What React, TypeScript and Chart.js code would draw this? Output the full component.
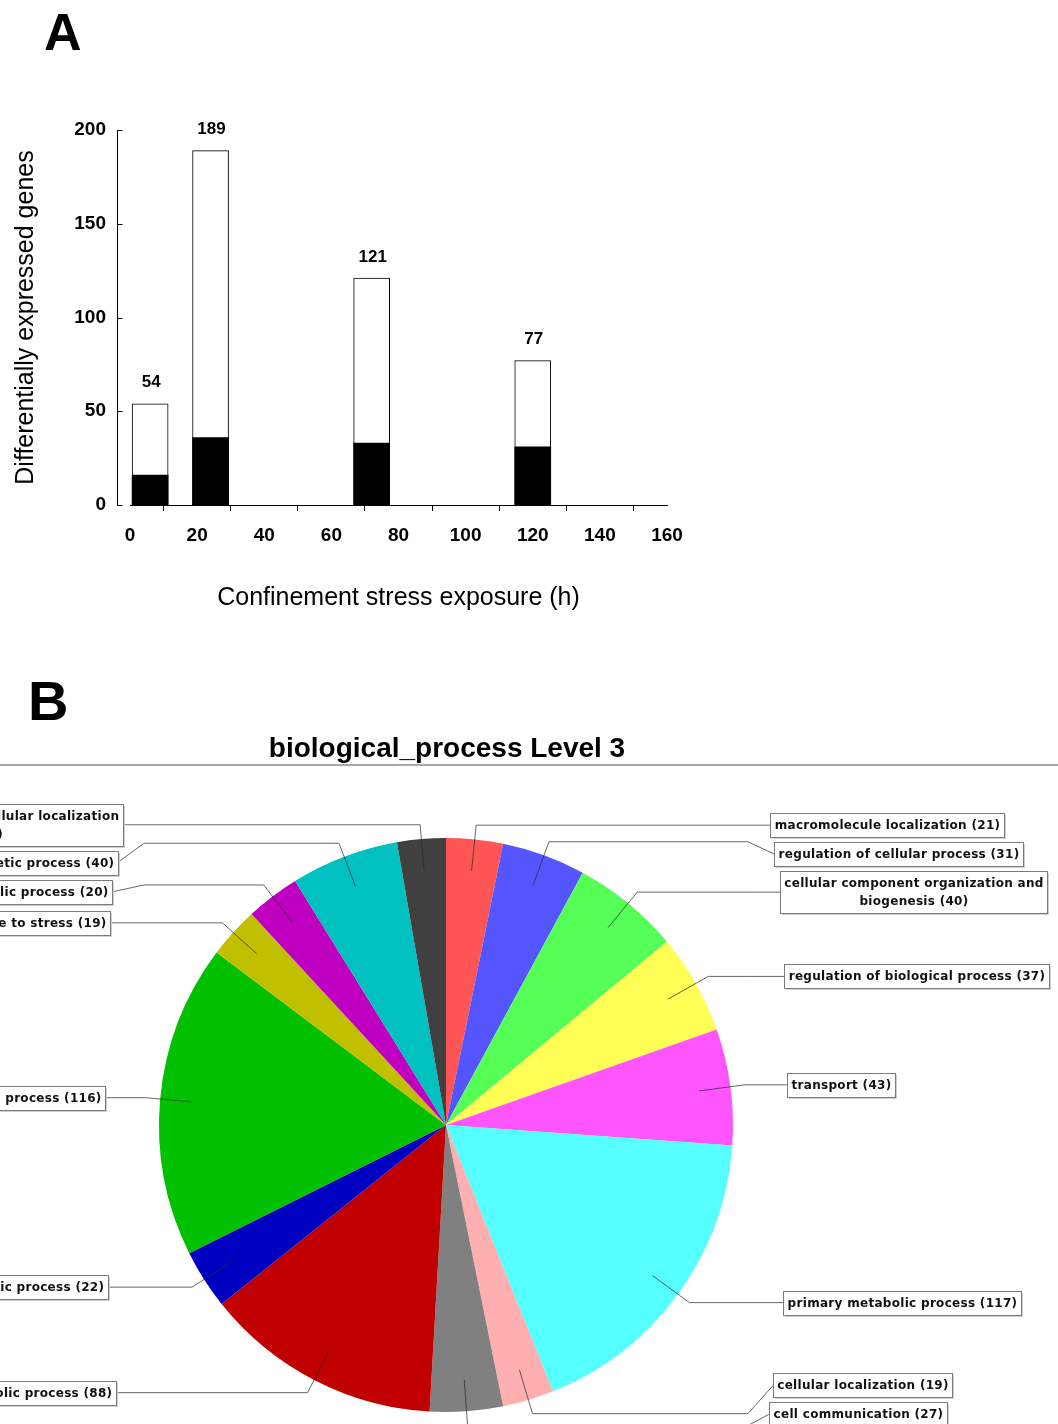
import React, { useEffect, useRef } from 'react';
import { Chart, registerables } from 'chart.js';

Chart.register(...registerables);

const SANS = "'Liberation Sans', Arial, Helvetica, sans-serif";
const LABEL_FONT = "'DejaVu Sans', Verdana, sans-serif";

// ---------- Panel A data ----------
const exposureHours = [6, 24, 72, 120];
const totalGenes = [54, 189, 121, 77];
const blackGenes = [16, 36, 33, 31];
const xAxisMax = 160;
const xTickStep = 20;
const yAxisMax = 200;
const yTickStep = 50;

// ---------- Panel B data ----------
const processLabels = [
  'macromolecule localization',
  'regulation of cellular process',
  'cellular component organization and biogenesis',
  'regulation of biological process',
  'transport',
  'primary metabolic process',
  'cellular localization',
  'cell communication',
  'macromolecule metabolic process',
  'phosphorus metabolic process',
  'cellular metabolic process',
  'response to stress',
  'catabolic process',
  'biosynthetic process',
  'establishment of cellular localization',
];
const processCounts = [21, 31, 40, 37, 43, 117, 19, 27, 88, 22, 116, 19, 20, 40, 18];
const processColors = [
  '#FF5555', '#5555FF', '#55FF55', '#FFFF55', '#FF55FF', '#55FFFF', '#FFAFAF', '#808080',
  '#C00000', '#0000C0', '#00C000', '#C0C000', '#C000C0', '#00C0C0', '#404040',
];

const A_W = 700;
const A_H = 640;
const B_W = 1058;
const B_H = 784;

const offsetYAxisPlugin = {
  id: 'offsetYAxis',
  afterDraw(chart: any) {
    const { ctx, chartArea } = chart;
    const y = chart.scales.y;
    const ax = Math.round(chartArea.left - 13) + 0.5;
    ctx.save();
    ctx.strokeStyle = '#000';
    ctx.lineWidth = 1;
    ctx.beginPath();
    ctx.moveTo(ax, y.getPixelForValue(y.min) + 0.5);
    ctx.lineTo(ax, y.getPixelForValue(y.max));
    y.ticks.forEach((t: any) => {
      const py = Math.round(y.getPixelForValue(t.value)) + 0.5;
      ctx.moveTo(ax, py);
      ctx.lineTo(ax + 5, py);
    });
    ctx.stroke();
    ctx.restore();
  },
};

const barValuePlugin = {
  id: 'barValues',
  afterDatasetsDraw(chart: any) {
    const { ctx } = chart;
    const meta = chart.getDatasetMeta(1);
    ctx.save();
    ctx.font = `bold 17px ${SANS}`;
    ctx.fillStyle = '#000';
    ctx.textAlign = 'center';
    ctx.textBaseline = 'middle';
    meta.data.forEach((el: any, i: number) => {
      ctx.fillText(String(totalGenes[i]), el.x + 1, el.y - 21);
    });
    ctx.restore();
  },
};

const letterAPlugin = {
  id: 'letterA',
  afterDraw(chart: any) {
    const { ctx } = chart;
    ctx.save();
    ctx.font = `bold 52px ${SANS}`;
    ctx.fillStyle = '#000';
    ctx.textAlign = 'left';
    ctx.textBaseline = 'alphabetic';
    ctx.fillText('A', 44, 50);
    ctx.restore();
  },
};

function wrapText(ctx: CanvasRenderingContext2D, text: string, maxW: number): string[] {
  const words = text.split(' ');
  const lines: string[] = [];
  let cur = '';
  for (const w of words) {
    const test = cur ? cur + ' ' + w : w;
    if (cur && ctx.measureText(test).width > maxW) {
      lines.push(cur);
      cur = w;
    } else {
      cur = test;
    }
  }
  if (cur) lines.push(cur);
  return lines;
}

const pieHeaderPlugin = {
  id: 'pieHeader',
  afterDraw(chart: any) {
    const { ctx } = chart;
    const arc = chart.getDatasetMeta(0).data[0];
    ctx.save();
    ctx.fillStyle = '#000';
    ctx.font = `bold 56px ${SANS}`;
    ctx.textAlign = 'left';
    ctx.textBaseline = 'alphabetic';
    ctx.fillText('B', 28, 80);
    ctx.font = `bold 28px ${SANS}`;
    ctx.textAlign = 'center';
    ctx.textBaseline = 'middle';
    ctx.fillText('biological_process Level 3', arc.x + 1, 109);
    ctx.strokeStyle = '#a8a8a8';
    ctx.lineWidth = 2;
    ctx.beginPath();
    ctx.moveTo(0, 125);
    ctx.lineTo(chart.width, 125);
    ctx.stroke();
    ctx.restore();
  },
};

const pieLabelPlugin = {
  id: 'pieLabels',
  afterDatasetsDraw(chart: any) {
    const { ctx } = chart;
    const arcs = chart.getDatasetMeta(0).data;
    if (!arcs.length) return;
    const cx = arcs[0].x;
    const cy = arcs[0].y;
    const r = arcs[0].outerRadius;
    ctx.save();
    ctx.font = `bold 12px ${LABEL_FONT}`;
    (ctx as any).letterSpacing = '0.3px';
    const lineH = 18;
    const gap = 5;
    const items = arcs.map((arc: any, i: number) => {
      const mid = (arc.startAngle + arc.endAngle) / 2;
      const c = Math.cos(mid);
      const s = Math.sin(mid);
      const lines = wrapText(ctx, `${processLabels[i]} (${processCounts[i]})`, 280);
      const w = Math.max(...lines.map((l) => ctx.measureText(l).width)) + 8;
      const h = lines.length * lineH + 6;
      const idealY = cy + r * 1.05 * s;
      return { i, c, s, right: c >= 0, lines, w, h, idealY, y: idealY };
    });
    const maxY = chart.height - 10;
    [true, false].forEach((side) => {
      const list = items.filter((it: any) => it.right === side).sort((a: any, b: any) => a.idealY - b.idealY);
      for (let k = 1; k < list.length; k++) {
        const p = list[k - 1];
        const q = list[k];
        q.y = Math.max(q.idealY, p.y + p.h / 2 + q.h / 2 + gap);
      }
      if (list.length && list[list.length - 1].y > maxY) {
        list[list.length - 1].y = maxY;
        for (let k = list.length - 2; k >= 0; k--) {
          const q = list[k + 1];
          const p = list[k];
          p.y = Math.min(p.y, q.y - q.h / 2 - p.h / 2 - gap);
        }
      }
    });

    // leader lines
    ctx.strokeStyle = 'rgba(40,40,40,0.7)';
    ctx.lineWidth = 1;
    items.forEach((it: any) => {
      const dir = it.right ? 1 : -1;
      const lx = cx + r * 0.89 * it.c;
      const ly = cy + r * 0.89 * it.s;
      const ex = cx + r * 1.05 * it.c;
      const ey = cy + r * 1.05 * it.s;
      const anchorX = cx + dir * r * 1.052;
      const edgeX = cx + dir * (r * 1.122 + r * 0.066 * Math.abs(it.c));
      it.edgeX = edgeX;
      ctx.beginPath();
      ctx.moveTo(lx, ly);
      ctx.lineTo(ex, ey);
      ctx.lineTo(anchorX, ey);
      ctx.lineTo(edgeX, it.y);
      ctx.stroke();
    });

    // label boxes
    items.forEach((it: any) => {
      const left = Math.round(it.right ? it.edgeX : it.edgeX - it.w);
      const top = Math.round(it.y - it.h / 2);
      const w = Math.round(it.w);
      ctx.fillStyle = '#cfcfcf';
      ctx.fillRect(left + 2, top + 2, w, it.h);
      ctx.fillStyle = '#ffffff';
      ctx.fillRect(left, top, w, it.h);
      ctx.strokeStyle = '#7a7a7a';
      ctx.strokeRect(left + 0.5, top + 0.5, w, it.h);
      ctx.fillStyle = '#111';
      ctx.textAlign = 'center';
      ctx.textBaseline = 'middle';
      it.lines.forEach((line: string, k: number) => {
        ctx.fillText(line, left + w / 2 + 0.5, top + 3 + lineH / 2 + k * lineH + 1);
      });
    });
    (ctx as any).letterSpacing = '0px';
    ctx.restore();
  },
};

export default function App() {
  const barRef = useRef<HTMLCanvasElement | null>(null);
  const pieRef = useRef<HTMLCanvasElement | null>(null);

  useEffect(() => {
    if (!barRef.current || !pieRef.current) return;
    const tickFont = { family: SANS, size: 19, weight: 'bold' as const };
    const titleFont = { family: SANS, size: 25, weight: 'normal' as const };

    const barChart = new Chart(barRef.current, {
      type: 'bar',
      data: {
        datasets: [
          {
            label: 'dark segment',
            data: exposureHours.map((x, i) => ({ x, y: blackGenes[i] })),
            backgroundColor: '#000000',
            borderColor: '#000000',
            borderWidth: 0,
            order: 0,
          },
          {
            label: 'total',
            data: exposureHours.map((x, i) => ({ x, y: totalGenes[i] })),
            backgroundColor: '#ffffff',
            borderColor: '#000000',
            borderWidth: 1,
            order: 1,
          },
        ],
      },
      options: {
        animation: false,
        responsive: false,
        maintainAspectRatio: false,
        layout: { padding: { top: 130, left: 0, right: A_W - 667, bottom: 0 } },
        datasets: { bar: { grouped: false, barThickness: 36 } } as any,
        plugins: { legend: { display: false }, tooltip: { enabled: false } },
        scales: {
          x: {
            type: 'linear',
            min: 0,
            max: xAxisMax,
            offset: false,
            ticks: { stepSize: xTickStep, font: tickFont, color: '#000', padding: 13, maxRotation: 0 },
            grid: { display: true, drawOnChartArea: false, drawTicks: true, tickLength: 6, color: '#000' },
            border: { display: true, color: '#000', width: 1 },
            title: {
              display: true,
              text: 'Confinement stress exposure (h)',
              font: titleFont,
              color: '#000',
              padding: { top: 0, bottom: 27 },
            },
            afterFit: (s: any) => {
              s.height = A_H - 505;
            },
          },
          y: {
            type: 'linear',
            min: 0,
            max: yAxisMax,
            ticks: { stepSize: yTickStep, font: tickFont, color: '#000', padding: 24 },
            grid: { display: false, drawTicks: false },
            border: { display: false },
            title: {
              display: true,
              text: 'Differentially expressed genes',
              font: titleFont,
              color: '#000',
              padding: { top: 11, bottom: 0 },
            },
            afterFit: (s: any) => {
              s.width = 130;
            },
          },
        },
      } as any,
      plugins: [offsetYAxisPlugin, barValuePlugin, letterAPlugin],
    });

    const pieChart = new Chart(pieRef.current, {
      type: 'pie',
      data: {
        labels: processLabels,
        datasets: [
          {
            data: processCounts,
            backgroundColor: processColors,
            borderWidth: 0,
          },
        ],
      },
      options: {
        animation: false,
        responsive: false,
        maintainAspectRatio: false,
        layout: { padding: { left: 159, right: B_W - 733, top: 198, bottom: 12 } },
        plugins: { legend: { display: false }, tooltip: { enabled: false } },
      } as any,
      plugins: [pieLabelPlugin, pieHeaderPlugin],
    });

    return () => {
      barChart.destroy();
      pieChart.destroy();
    };
  }, []);

  return (
    <div
      style={{
        position: 'absolute',
        left: 0,
        top: 0,
        width: 1058,
        height: 1424,
        overflow: 'hidden',
        background: '#ffffff',
      }}
    >
      <canvas
        ref={barRef}
        width={A_W}
        height={A_H}
        style={{ position: 'absolute', left: 0, top: 0, width: A_W, height: A_H }}
      />
      <canvas
        ref={pieRef}
        width={B_W}
        height={B_H}
        style={{ position: 'absolute', left: 0, top: 640, width: B_W, height: B_H }}
      />
    </div>
  );
}
